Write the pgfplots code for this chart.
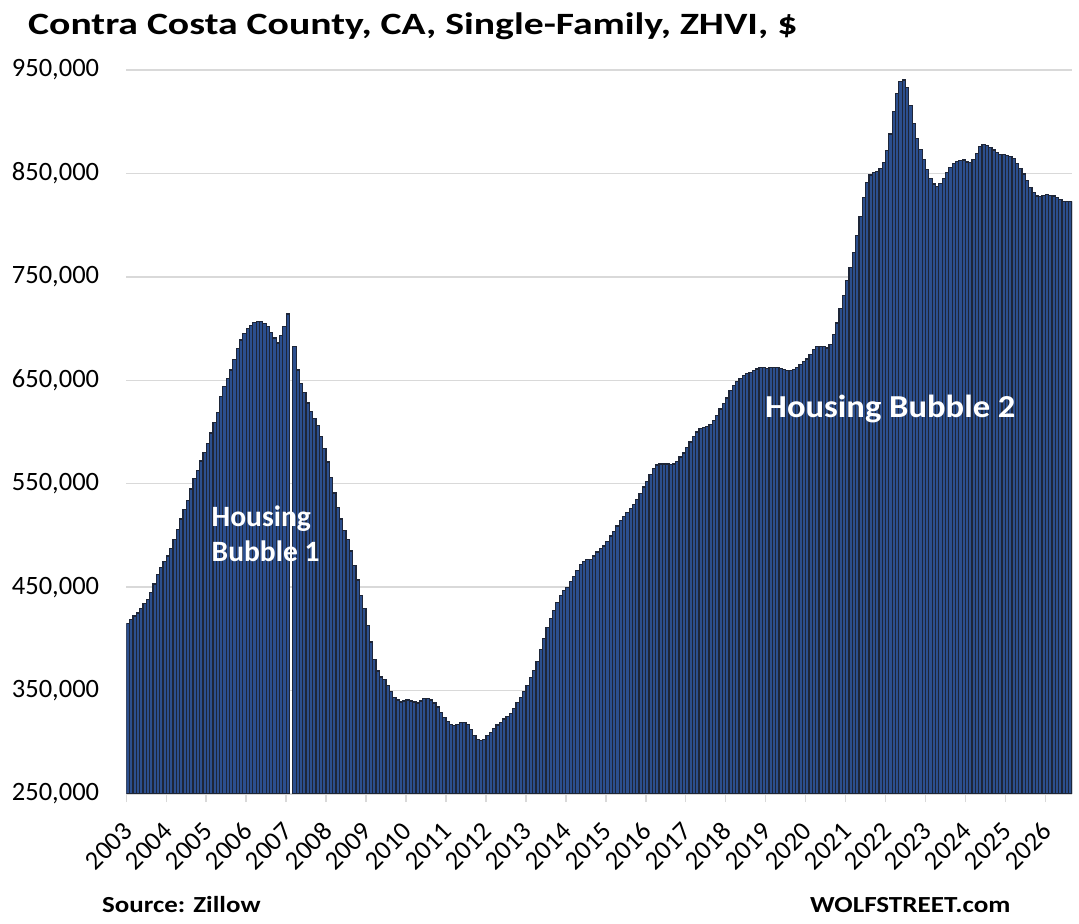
\documentclass[border=0pt]{standalone}
\usepackage{fontspec}
\setmainfont{Carlito}
\usepackage{graphicx}
\usepackage{pgfplots}
\pgfplotsset{compat=1.18}
\usepackage{pgfplotstable}
\definecolor{barfill}{RGB}{44,79,142}
\definecolor{baredge}{RGB}{30,38,56}
\definecolor{gridc}{RGB}{217,217,217}
\pgfplotstableread{
m v
0 415
1 419
2 422
3 425
4 429
5 434
6 438
7 445
8 453
9 462
10 469
11 475
12 480
13 487
14 496
15 506
16 516
17 525
18 534
19 545
20 555
21 563
22 572
23 580
24 589
25 599
26 609
27 619
28 634
29 644
30 652
31 660
32 670
33 681
34 689
35 695
36 700
37 703
38 706
39 707
40 707
41 705
42 702
43 696
44 691
45 686
46 693
47 702
48 714
50 683
51 660
52 647
53 638
54 628
55 620
56 613
57 606
58 596
59 584
60 571
61 556
62 541
63 527
64 516
65 505
66 496
67 485
68 471
69 457
70 442
71 429
72 413
73 397
74 380
75 369
76 363
77 361
78 355
79 349
80 343
81 341
82 339
83 340
84 341
85 340
86 339
87 338
88 340
89 342
90 342
91 341
92 338
93 334
94 329
95 324
96 320
97 317
98 316
99 317
100 319
101 319
102 317
103 312
104 306.5
105 302.6
106 301.6
107 302.6
108 306.5
109 309.7
110 313.5
111 316.8
112 319.4
113 322.6
114 325.2
115 327.7
116 332.9
117 338.7
118 343.5
119 349
120 354.8
121 362.9
122 369.4
123 378
124 389.4
125 400
126 411.3
127 420
128 427.4
129 435.5
130 442
131 446.8
132 450
133 455.5
134 460.6
135 466
136 472
137 474.8
138 476.5
139 476.8
140 480
141 483.9
142 487
143 489.7
144 494.2
145 499.4
146 503.9
147 509
148 514.5
149 518.4
150 522
151 525.8
152 530
153 534.8
154 540.3
155 546.8
156 552.3
157 558.7
158 564.5
159 568
160 569
161 569
162 569
163 568.4
164 569
165 571.6
166 575.8
167 579.7
168 585
169 590.3
170 595.8
171 600
172 603.2
173 604.5
174 605.5
175 607
176 611.3
177 615.8
178 622.3
179 627.4
180 632.9
181 640.3
182 644.8
183 649
184 651.9
185 654.5
186 656.5
187 657.7
188 659.4
189 661
190 662
191 662
192 661.3
193 662
194 662.3
195 662
196 661.3
197 660.3
198 659.7
199 659.7
200 660.3
201 662
202 665.2
203 668.4
204 670.6
205 674.8
206 679.7
207 682.3
208 683
209 682.3
210 681.3
211 684.5
212 694.2
213 705.5
214 719.4
215 732.3
216 746.8
217 759
218 773.2
219 790
220 808
221 826.8
222 841
223 848.4
224 850.6
225 851.6
226 854.8
227 860.3
228 872
229 888
230 909.7
231 927.4
232 938.7
233 940.3
234 933.2
235 916
236 898.4
237 883.9
238 873.2
239 863.5
240 853.9
241 845.2
242 839.7
243 837.7
244 840.3
245 845.2
246 850.6
247 855.8
248 859.7
249 861.6
250 862.6
251 862.9
252 861
253 860.3
254 863.5
255 869.4
256 875.8
257 877.7
258 876.8
259 875.2
260 872.6
261 870
262 868.4
263 868.1
264 867.4
265 866.1
266 864.2
267 859.7
268 854.8
269 849.4
270 842.9
271 836.5
272 831.3
273 828.1
274 827.4
275 829
276 829.7
277 829
278 828.1
279 826.5
280 824.8
281 823.2
282 822.6
283 822.6
}\zhvi
\begin{document}
\begin{tikzpicture}
\useasboundingbox (0,0) rectangle (1079bp,924bp);
\begin{axis}[
  at={(126.3bp,130bp)}, anchor=south west,
  scale only axis, width=945.7bp, height=724bp,
  xmin=-0.5, xmax=283.5, ymin=250, ymax=950,
  enlargelimits=false,
  ybar, bar width=1,
  ytick={250,350,450,550,650,750,850,950},
  yticklabels={{250,000},{350,000},{450,000},{550,000},{650,000},{750,000},{850,000},{950,000}},
  ymajorgrids, grid style={gridc, line width=1.5bp},
  xtick={-0.5,11.5,...,275.5},
  xticklabels={2003,2004,2005,2006,2007,2008,2009,2010,2011,2012,2013,2014,2015,2016,2017,2018,2019,2020,2021,2022,2023,2024,2025,2026},
  tick align=outside, major tick length=8bp,
  xtick style={gridc, line width=1.5bp},
  ytick style={draw=none},
  axis x line*=bottom, axis y line*=left,
  x axis line style={gridc, line width=1.5bp, -},
  y axis line style={draw=none},
  tick label style={font=\fontsize{26.5bp}{30bp}\selectfont},
  yticklabel style={anchor=east, inner sep=0pt, xshift=-19bp},
  xticklabel style={yshift=-25bp, xshift=1.5bp, rotate=45, anchor=east, inner sep=0pt},
]
\addplot[fill=barfill, draw=baredge, line width=1.25bp] table[x=m, y=v] {\zhvi};
\end{axis}
\node[anchor=base west, inner sep=0pt, font=\bfseries\fontsize{31bp}{36bp}\selectfont] at (28bp,889bp) {\scalebox{1.28}[1]{Contra Costa County, CA, Single-Family, ZHVI, \$}};
\node[anchor=base west, inner sep=0pt, text=white, font=\bfseries\fontsize{32bp}{36bp}\selectfont] at (765bp,506bp) {\scalebox{1.08}[1]{Housing Bubble 2}};
\node[anchor=base west, inner sep=0pt, text=white, font=\bfseries\fontsize{29.5bp}{34bp}\selectfont] at (211.5bp,397.4bp) {Housing};
\node[anchor=base west, inner sep=0pt, text=white, font=\bfseries\fontsize{29.5bp}{34bp}\selectfont] at (211.5bp,362.9bp) {Bubble 1};
\node[anchor=base west, inner sep=0pt, font=\bfseries\fontsize{23bp}{27bp}\selectfont] at (102bp,12bp) {\scalebox{1.17}[1]{Source: Zillow}};
\node[anchor=base west, inner sep=0pt, font=\bfseries\fontsize{23bp}{27bp}\selectfont] at (810bp,12bp) {\scalebox{1.18}[1]{WOLFSTREET.com}};
\end{tikzpicture}
\end{document}
